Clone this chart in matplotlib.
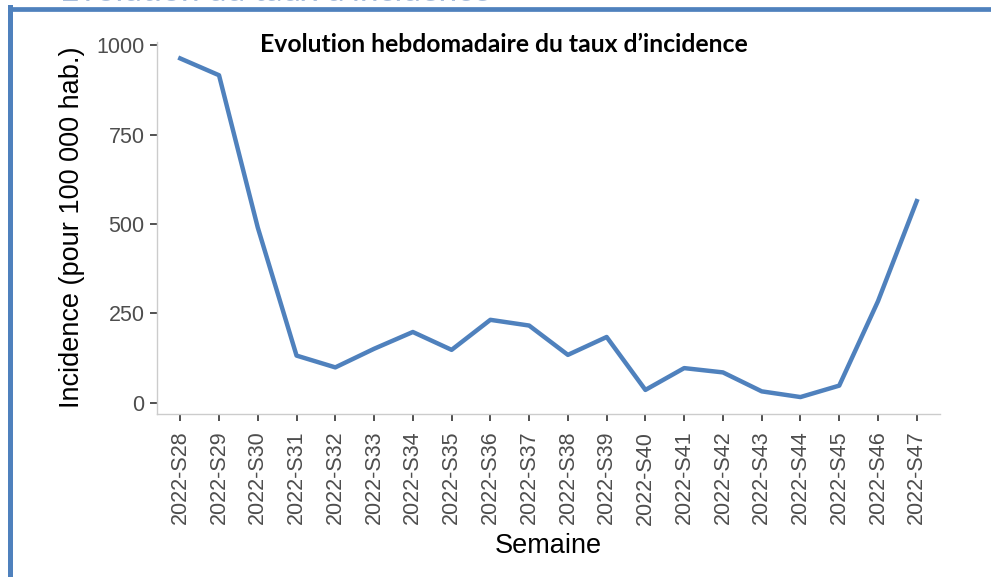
import matplotlib
matplotlib.use('Agg')
import matplotlib.pyplot as plt
from matplotlib.lines import Line2D

# weekly incidence per 100 000 inhabitants
semaines = ['2022-S28', '2022-S29', '2022-S30', '2022-S31', '2022-S32',
            '2022-S33', '2022-S34', '2022-S35', '2022-S36', '2022-S37',
            '2022-S38', '2022-S39', '2022-S40', '2022-S41', '2022-S42',
            '2022-S43', '2022-S44', '2022-S45', '2022-S46', '2022-S47']
incidence = [963, 916, 490, 132, 99, 151, 198, 148, 232, 216,
             134, 184, 36, 97, 85, 32, 16, 48, 284, 564]
yticks = [0, 250, 500, 750, 1000]

blue = '#4F81BD'
plt.rcParams['font.family'] = ['Liberation Sans', 'DejaVu Sans']

fig = plt.figure(figsize=(9.91, 5.77), dpi=100)
ax = fig.add_axes([157 / 991, 1 - 414 / 577, (940 - 157) / 991, (414 - 41.5) / 577])

x = list(range(len(semaines)))
ax.plot(x, incidence, color=blue, linewidth=3.2)

# ggplot-like expansion
lo, hi = min(incidence), max(incidence)
pad = 0.05 * (hi - lo)
ax.set_ylim(lo - pad, hi + pad)
ax.set_xlim(-0.6, len(semaines) - 1 + 0.6)

ax.set_yticks(yticks)
ax.set_yticklabels([str(v) for v in yticks])
ax.set_xticks(x)
ax.set_xticklabels(semaines, rotation=90)
ax.tick_params(axis='both', labelsize=15.5, labelcolor='#4D4D4D', color='#333333',
               length=5, width=1.2, pad=4)
ax.tick_params(axis='x', pad=7)

for s in ['top', 'right']:
    ax.spines[s].set_visible(False)
for s in ['left', 'bottom']:
    ax.spines[s].set_color('#CCCCCC')
    ax.spines[s].set_linewidth(1.0)

ax.set_xlabel('Semaine', fontsize=19.5, labelpad=6)
ax.set_ylabel('Incidence (pour 100 000 hab.)', fontsize=19.5, labelpad=8)

fig.text(504 / 991, 1 - 44 / 577, 'Evolution hebdomadaire du taux d\u2019incidence',
         fontsize=17.8, fontweight='bold', family=['Lato', 'DejaVu Sans'],
         ha='center', va='center', color='black')

# slide frame around the chart
fig.add_artist(Line2D([10 / 991, 10 / 991], [0, 1 - 7 / 577], color=blue,
                      linewidth=3.6, transform=fig.transFigure, solid_capstyle='projecting'))
fig.add_artist(Line2D([10 / 991, 1], [1 - 9 / 577, 1 - 9 / 577], color=blue,
                      linewidth=3.4, transform=fig.transFigure, solid_capstyle='butt'))

# heading above the frame, mostly cut off like in the slide
fig.text(60 / 991, 1 - 1.2 / 577, 'Evolution du taux d\u2019incidence',
         fontsize=24, color='#A9BEDC', family=['Lato', 'DejaVu Sans'],
         ha='left', va='baseline')

fig.savefig('out.png', dpi=100)
